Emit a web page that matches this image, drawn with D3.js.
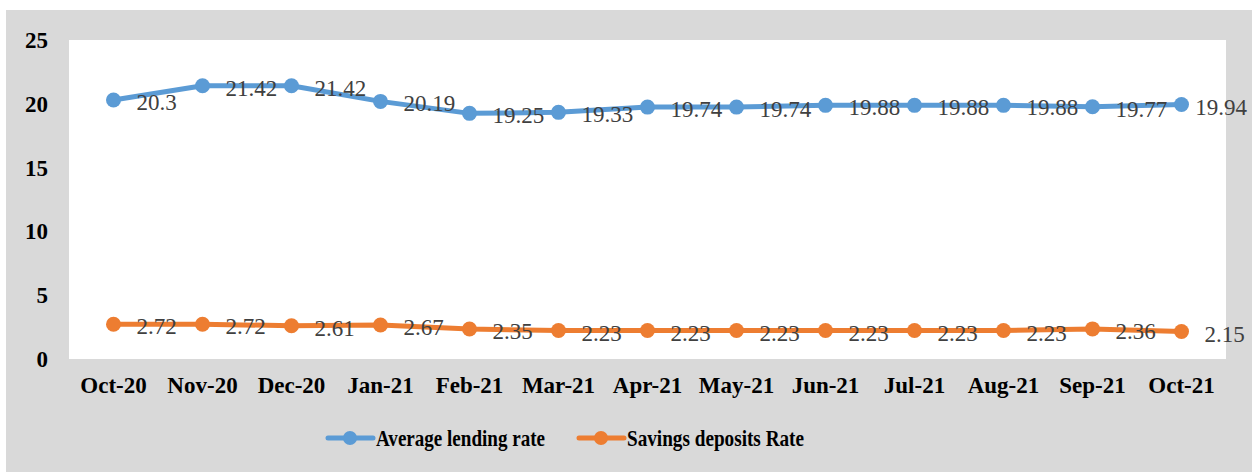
<!DOCTYPE html>
<html><head><meta charset="utf-8">
<script src="https://cdn.jsdelivr.net/npm/d3@7"></script>
<style>html,body{margin:0;padding:0;background:#fff;}svg{display:block;}</style>
</head><body>
<svg id="c" width="1252" height="472"></svg>
<script>
const months = ["Oct-20","Nov-20","Dec-20","Jan-21","Feb-21","Mar-21","Apr-21","May-21","Jun-21","Jul-21","Aug-21","Sep-21","Oct-21"];
const lendingRate = [20.3,21.42,21.42,20.19,19.25,19.33,19.74,19.74,19.88,19.88,19.88,19.77,19.94];
const savingsRate = [2.72,2.72,2.61,2.67,2.35,2.23,2.23,2.23,2.23,2.23,2.23,2.36,2.15];
const yTicks = [0,5,10,15,20,25];
const seriesNames = ["Average lending rate","Savings deposits Rate"];
const colors = ["#5B9BD5","#ED7D31"];

const svg = d3.select("#c");
svg.append("rect").attr("x",6).attr("y",10).attr("width",1246).attr("height",462).attr("fill","#D9D9D9");
const L=69,R=1226,T=40,B=359;
svg.append("rect").attr("x",L).attr("y",T).attr("width",R-L).attr("height",B-T).attr("fill","#fff");

const x = d3.scaleBand().domain(months).range([L,R]);
const y = d3.scaleLinear().domain([0,25]).range([B,T]);
const cx = m => x(m)+x.bandwidth()/2;
const serif = "'Liberation Serif','Times New Roman',serif";

// y axis
const ya = svg.append("g").attr("transform",`translate(${L},0)`)
  .call(d3.axisLeft(y).tickValues(yTicks).tickSize(0).tickPadding(21).tickFormat(d3.format("d")));
ya.select(".domain").remove();
ya.selectAll("text").attr("font-family",serif).attr("font-weight","bold").attr("font-size",23).attr("fill","#000").attr("dy","0.33em");

// x axis
const xa = svg.append("g").attr("transform",`translate(0,${B})`)
  .call(d3.axisBottom(x).tickSize(0).tickPadding(18));
xa.select(".domain").remove();
xa.selectAll("text").attr("font-family",serif).attr("font-weight","bold").attr("font-size",23).attr("fill","#000");

const allSeries=[lendingRate,savingsRate];
allSeries.forEach((vals,i)=>{
  const data = months.map((m,j)=>({m,v:vals[j]}));
  svg.append("path").datum(data)
    .attr("fill","none").attr("stroke",colors[i]).attr("stroke-width",5).attr("stroke-linejoin","round")
    .attr("d",d3.line().x(d=>cx(d.m)).y(d=>y(d.v)));
  svg.selectAll(null).data(data).enter().append("circle")
    .attr("cx",d=>cx(d.m)).attr("cy",d=>y(d.v)).attr("r",7.5).attr("fill",colors[i]);
  svg.selectAll(null).data(data).enter().append("text")
    .attr("y",d=>y(d.v)+2).attr("dy","0.35em")
    .attr("font-family",serif).attr("font-size",23).attr("fill","#404040")
    .text(d=>d.v)
    .attr("x",function(d){ const w=this.getComputedTextLength(); return Math.min(cx(d.m)+23, 1247-w); });
});

// legend
const legX=[328,579], legW=[169,177];
seriesNames.forEach((n,i)=>{
  const g=svg.append("g");
  g.append("line").attr("x1",legX[i]).attr("x2",legX[i]+45).attr("y1",438).attr("y2",438)
    .attr("stroke",colors[i]).attr("stroke-width",5).attr("stroke-linecap","round");
  g.append("circle").attr("cx",legX[i]+22).attr("cy",438).attr("r",7).attr("fill",colors[i]);
  g.append("text").attr("x",legX[i]+48).attr("y",438).attr("dy","0.33em")
    .attr("font-family",serif).attr("font-weight","bold").attr("font-size",24).attr("fill","#000")
    .attr("textLength",legW[i]).attr("lengthAdjust","spacingAndGlyphs").text(n);
});
</script>
</body></html>
